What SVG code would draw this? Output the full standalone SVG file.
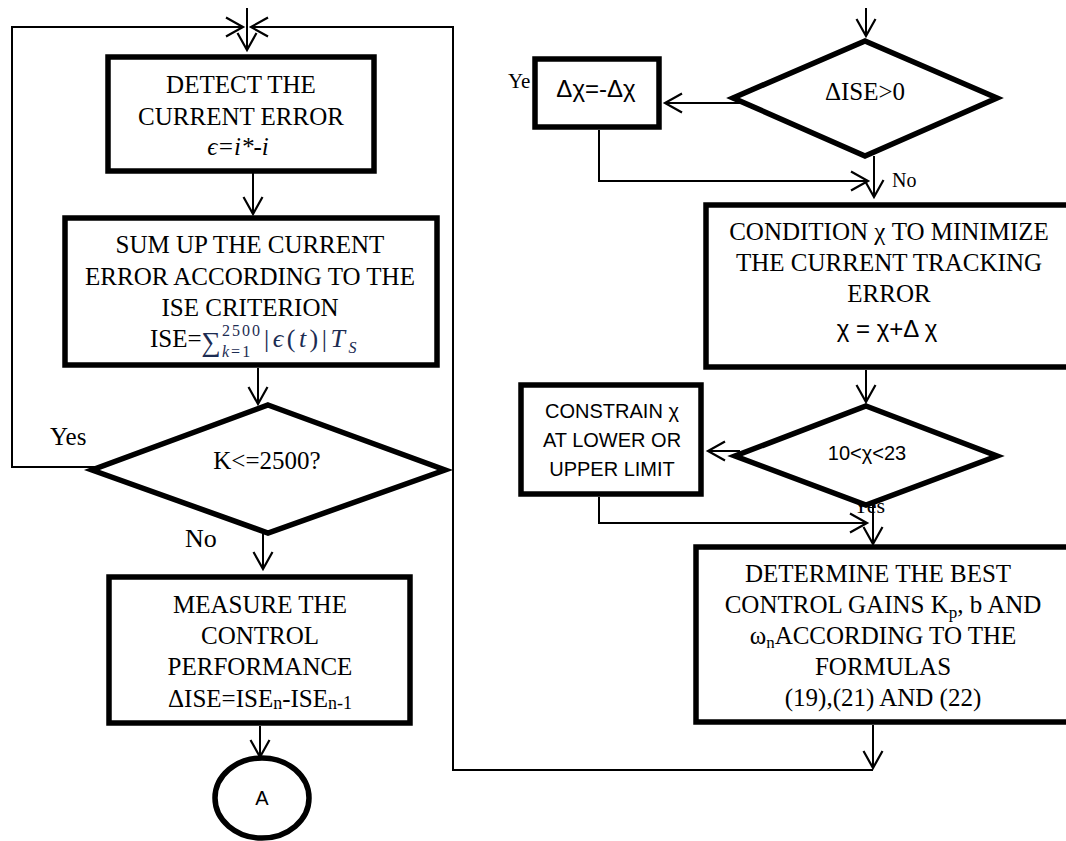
<svg xmlns="http://www.w3.org/2000/svg" width="1066" height="841" viewBox="0 0 1066 841">
<style>
.bg{fill:#fff}
.box{fill:#fff;stroke:#000;stroke-width:5.5}
.ln{fill:none;stroke:#000;stroke-width:2}
.ser{font-family:"Liberation Serif","Times New Roman",serif;font-size:25px;fill:#000}
.sans{font-family:"Liberation Sans",Arial,sans-serif;font-size:20px;fill:#000}
.c{text-anchor:middle}
.math{font-family:"Liberation Serif","DejaVu Serif",serif;fill:#1c2c52}
</style>
<defs>
<marker id="arr" markerUnits="userSpaceOnUse" markerWidth="40" markerHeight="40" viewBox="-20 -20 40 40" refX="0" refY="0" orient="auto" overflow="visible">
<path d="M-17,-9.5 L0,0 L-17,9.5" fill="none" stroke="#000" stroke-width="2.2"/>
</marker>
</defs>
<rect class="bg" x="0" y="0" width="1066" height="841"/>
<g id="connectors">
<path class="ln" d="M247,8 L247,50" marker-end="url(#arr)"/>
<path class="ln" d="M96,467 L12,467 L12,27 L243,27" marker-end="url(#arr)"/>
<path class="ln" d="M873,770 L453,770 L453,27 L251,27" marker-end="url(#arr)"/>
<path class="ln" d="M253,173 L253,214" marker-end="url(#arr)"/>
<path class="ln" d="M258,368 L258,404" marker-end="url(#arr)"/>
<path class="ln" d="M263,533 L263,569" marker-end="url(#arr)"/>
<path class="ln" d="M260,726 L260,757" marker-end="url(#arr)"/>
<path class="ln" d="M866,8 L866,36" marker-end="url(#arr)"/>
<path class="ln" d="M740,103 L665,103" marker-end="url(#arr)"/>
<path class="ln" d="M599,130 L599,181 L868,181" marker-end="url(#arr)"/>
<path class="ln" d="M874,156 L874,197" marker-end="url(#arr)"/>
<path class="ln" d="M866,370 L866,402" marker-end="url(#arr)"/>
<path class="ln" d="M740,451 L708,451" marker-end="url(#arr)"/>
<path class="ln" d="M599,497 L599,523 L867,523" marker-end="url(#arr)"/>
<path class="ln" d="M873,505 L873,544" marker-end="url(#arr)"/>
<path class="ln" d="M873,725 L873,768" marker-end="url(#arr)"/>
<text class="ser" x="50" y="445">Yes</text>
<text class="ser" x="185" y="547" style="font-size:26px">No</text>
<text class="ser" x="508" y="88" style="font-size:21px">Ye</text>
<text class="ser" x="892" y="187" style="font-size:20px">No</text>
<text class="ser" x="853" y="513" style="font-size:22px">Yes</text>
</g>
<g id="detect">
<rect class="box" x="108" y="57" width="266" height="114"/>
<text class="ser c" x="241" y="93">DETECT THE</text>
<text class="ser c" x="241" y="125">CURRENT ERROR</text>
<text class="ser c" x="238" y="155" font-style="italic">ϵ=i*-i</text>
</g>
<g id="sumup">
<rect class="box" x="65" y="218" width="372" height="147"/>
<text class="ser c" x="250" y="253">SUM UP THE CURRENT</text>
<text class="ser c" x="250" y="285">ERROR ACCORDING TO THE</text>
<text class="ser c" x="250" y="316">ISE CRITERION</text>
<text class="math" x="150" y="347" font-size="25"><tspan fill="#000">ISE=</tspan><tspan font-size="27" y="351">∑</tspan><tspan font-size="16" x="222" y="336" letter-spacing="2">2500</tspan><tspan font-size="16" x="222" y="357" letter-spacing="2"><tspan font-style="italic">k</tspan>=1</tspan><tspan font-size="26" x="264" y="347" letter-spacing="3.5">|<tspan font-style="italic">ϵ</tspan>(<tspan font-style="italic">t</tspan>)|<tspan font-style="italic">T</tspan></tspan><tspan font-size="16" font-style="italic" y="353">S</tspan></text>
</g>
<g id="k2500">
<polygon class="box" points="268,405 445,470 268,533 92,470" stroke-width="6"/>
<text class="ser c" x="267" y="469">K&lt;=2500?</text>
</g>
<g id="measure">
<rect class="box" x="109" y="577" width="301" height="146"/>
<text class="ser c" x="260" y="613">MEASURE THE</text>
<text class="ser c" x="260" y="644">CONTROL</text>
<text class="ser c" x="260" y="675">PERFORMANCE</text>
<text class="ser c" x="260" y="707">ΔISE=ISE<tspan font-size="18" dy="2">n</tspan><tspan dy="-2">-ISE</tspan><tspan font-size="18" dy="2">n-1</tspan></text>
</g>
<g id="connA">
<ellipse class="box" cx="262" cy="798" rx="47" ry="40"/>
<text class="sans c" x="262" y="805">A</text>
</g>
<g id="dise">
<polygon class="box" points="865,41 997,98 865,156 733,98" stroke-width="6"/>
<text class="ser c" x="865" y="100">ΔISE&gt;0</text>
</g>
<g id="negate">
<rect class="box" x="535" y="59" width="124" height="68"/>
<text class="sans c" x="596" y="97" style="font-size:24px">Δχ=-Δχ</text>
</g>
<g id="condition">
<rect class="box" x="706" y="205" width="370" height="162" stroke-width="6"/>
<text class="ser c" x="889" y="240">CONDITION χ TO MINIMIZE</text>
<text class="ser c" x="889" y="271">THE CURRENT TRACKING</text>
<text class="ser c" x="889" y="302">ERROR</text>
<text class="sans c" x="887" y="337" style="font-size:24px">χ = χ+Δ χ</text>
</g>
<g id="limits">
<polygon class="box" points="866,406 997,456 866,505 735,456" stroke-width="6"/>
<text class="sans c" x="867" y="460">10&lt;χ&lt;23</text>
</g>
<g id="constrain">
<rect class="box" x="521" y="385" width="180" height="109"/>
<text class="sans c" x="612" y="418">CONSTRAIN χ</text>
<text class="sans c" x="612" y="447">AT LOWER OR</text>
<text class="sans c" x="612" y="476">UPPER LIMIT</text>
</g>
<g id="determine">
<rect class="box" x="696" y="547" width="380" height="175" stroke-width="6"/>
<text class="ser c" x="878" y="582">DETERMINE THE BEST</text>
<text class="ser c" x="883" y="613">CONTROL GAINS K<tspan font-size="17" dy="5">p</tspan><tspan dy="-5">, b AND</tspan></text>
<text class="ser c" x="883" y="644">ω<tspan font-size="17" dy="4">n</tspan><tspan dy="-4">ACCORDING TO THE</tspan></text>
<text class="ser c" x="883" y="675">FORMULAS</text>
<text class="ser c" x="883" y="706">(19),(21) AND (22)</text>
</g>
</svg>
